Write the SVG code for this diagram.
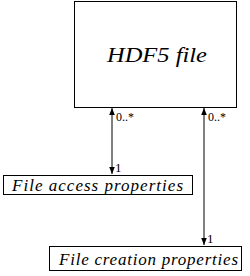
<svg xmlns="http://www.w3.org/2000/svg" width="250" height="276" viewBox="0 0 250 276">
<style>
.box{fill:#fff;stroke:#000;stroke-width:1}
.c{stroke:#000;stroke-width:1;fill:none;marker-start:url(#ah);marker-end:url(#ah)}
.f{font-family:"Times New Roman","Liberation Serif","DejaVu Serif",serif;fill:#000}
</style>
<defs>
<marker id="ah" viewBox="0 0 10 10" refX="10" refY="5" markerWidth="7" markerHeight="7" markerUnits="userSpaceOnUse" orient="auto-start-reverse">
<path d="M0,1 L10,5 L0,9 Z" fill="#000"/>
</marker>
</defs>
<rect width="250" height="276" fill="#fff"/>
<g id="connectors" class="f" font-size="13">
<line class="c" x1="112" y1="108" x2="112" y2="174"/>
<text x="116" y="121" textLength="18" lengthAdjust="spacingAndGlyphs">0..*</text>
<text x="115" y="172">1</text>
<line class="c" x1="204" y1="108" x2="204" y2="245"/>
<text x="208" y="121" textLength="18" lengthAdjust="spacingAndGlyphs">0..*</text>
<text x="207" y="243">1</text>
</g>
<g id="hdf5file" class="f" font-style="italic">
<rect class="box" x="74.5" y="1.5" width="162" height="106"/>
<text x="107" y="62" font-size="22" textLength="100" lengthAdjust="spacingAndGlyphs">HDF5 file</text>
</g>
<g id="fileaccess" class="f" font-style="italic">
<rect class="box" x="3.5" y="175.5" width="189" height="19"/>
<text x="12" y="191" font-size="17" textLength="171" lengthAdjust="spacing">File access properties</text>
</g>
<g id="filecreation" class="f" font-style="italic">
<rect class="box" x="49.5" y="246.5" width="192" height="24"/>
<text x="59" y="265" font-size="17" textLength="179" lengthAdjust="spacing">File creation properties</text>
</g>
</svg>
